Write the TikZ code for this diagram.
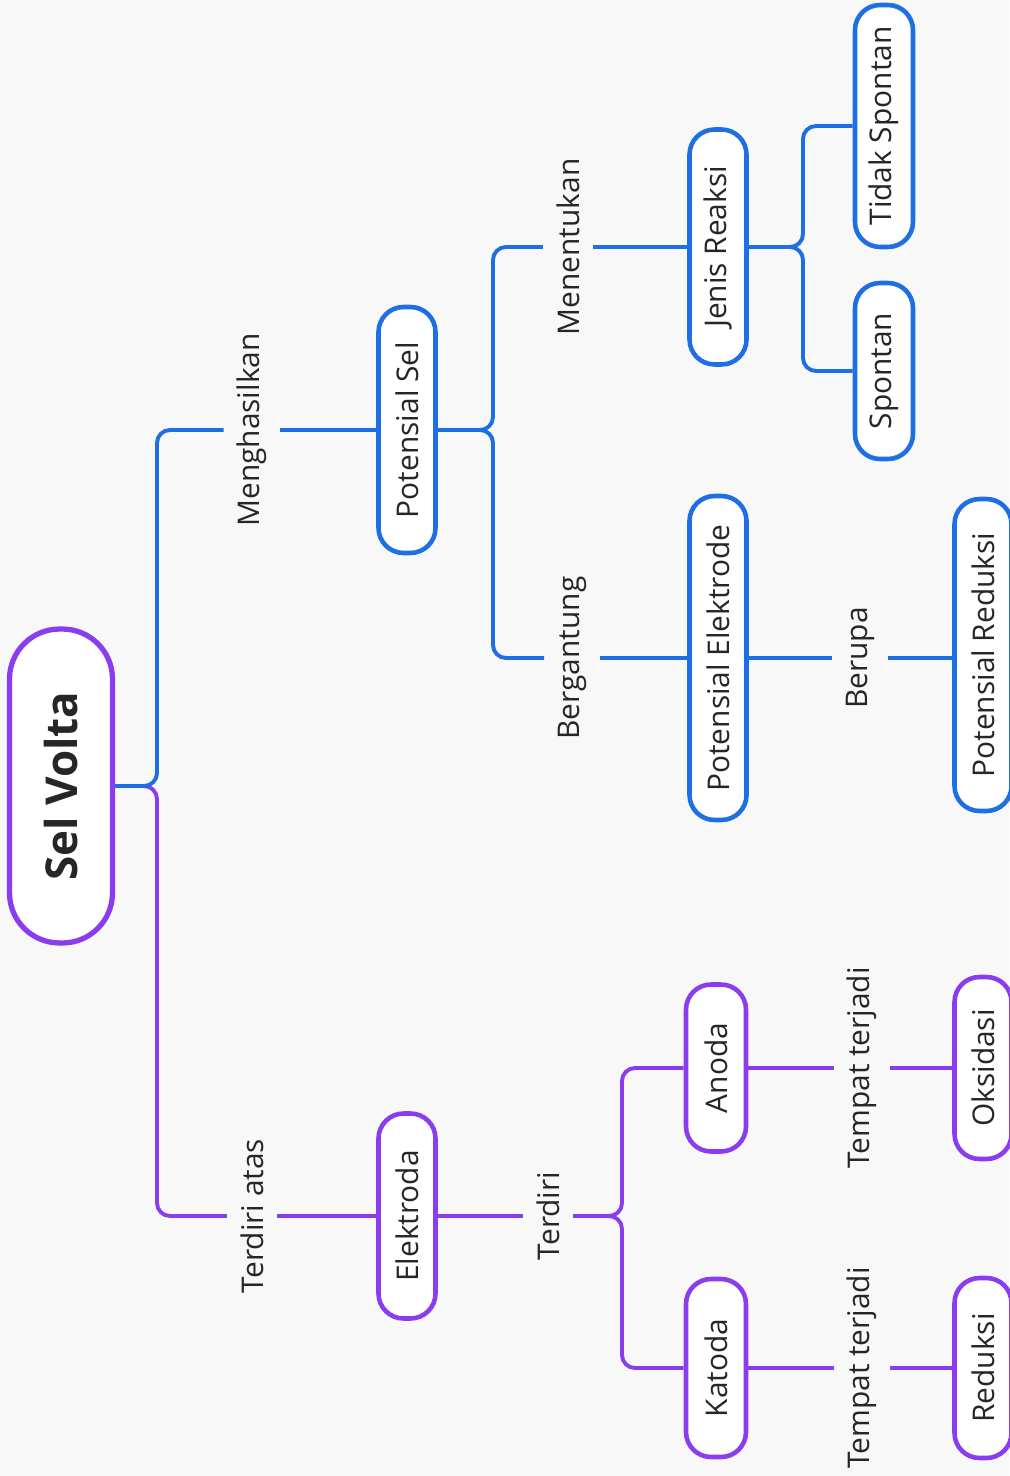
\documentclass[tikz,border=0pt]{standalone}
\usepackage{fontspec}
\setmainfont{Open Sans}
\usetikzlibrary{positioning}
\definecolor{mapblue}{HTML}{1E6FE3}
\definecolor{mappurple}{HTML}{8A3CEF}
\definecolor{mapbg}{HTML}{F8F8F8}
\definecolor{maptext}{HTML}{262626}

\begin{document}
\begin{tikzpicture}[x=0.02cm, y=-0.02cm,
        pill/.style={draw, rectangle, rounded corners=0.5cm, fill=white, line width=2.6pt, minimum width=1.14cm, inner sep=0pt, text=maptext, font=\fontsize{17}{20}\selectfont},
        bluepill/.style={pill, draw=mapblue},
        purplepill/.style={pill, draw=mappurple},
        rootpill/.style={pill, draw=mappurple, line width=3pt, rounded corners=1cm, minimum width=2.06cm, font=\fontsize{25}{30}\selectfont\bfseries},
        linktext/.style={inner xsep=7.5pt, inner ysep=0pt, text=maptext, font=\fontsize{17}{20}\selectfont},
        blueline/.style={draw=mapblue, line width=2.2pt, rounded corners=0.26cm},
        purpleline/.style={draw=mappurple, line width=2.2pt, rounded corners=0.26cm}
    ]
        \useasboundingbox (0,0) rectangle (1009,1476);
        \fill[mapbg] (0,0) rectangle (1009,1476);

        % root
        \node [rootpill, minimum height=6.28cm] (sv) at (61,786) {\rotatebox{90}{Sel Volta}};
        \coordinate (j0) at (157,786);

        % upper branch
        \node [linktext] (lbM) at (252,430) {\rotatebox{90}{Menghasilkan}};
        \node [bluepill, minimum height=4.92cm] (ps) at (407,430) {\rotatebox{90}{Potensial Sel}};
        \coordinate (j1) at (493,430);
        \node [linktext] (lbMen) at (568,247) {\rotatebox{90}{Menentukan}};
        \node [bluepill, minimum height=4.7cm] (jr) at (718,247) {\rotatebox{90}{Jenis Reaksi}};
        \coordinate (j2) at (803,247);
        \node [bluepill, minimum width=1.16cm, minimum height=4.84cm] (ts) at (884,126) {\rotatebox{90}{Tidak Spontan}};
        \node [bluepill, minimum width=1.16cm, minimum height=3.52cm] (sp) at (884,371) {\rotatebox{90}{Spontan}};
        \node [linktext] (lbB) at (572,658) {\rotatebox{90}{Bergantung}};
        \node [bluepill, minimum height=6.48cm] (pe) at (718,658) {\rotatebox{90}{Potensial Elektrode}};
        \node [linktext] (lbBer) at (860,658) {\rotatebox{90}{Berupa}};
        \node [bluepill, minimum height=6.24cm] (pr) at (983,655) {\rotatebox{90}{Potensial Reduksi}};

        % lower branch
        \node [linktext] (lbTA) at (252,1216) {\rotatebox{90}{Terdiri atas}};
        \node [purplepill, minimum height=4.1cm] (el) at (407,1216) {\rotatebox{90}{Elektroda}};
        \node [linktext] (lbT) at (548,1216) {\rotatebox{90}{Terdiri}};
        \coordinate (j3) at (622,1216);
        \node [purplepill, minimum width=1.2cm, minimum height=3.34cm] (an) at (716,1068) {\rotatebox{90}{Anoda}};
        \node [linktext] (lbTT1) at (862,1068) {\rotatebox{90}{Tempat terjadi}};
        \node [purplepill, minimum height=3.64cm] (ok) at (983,1068) {\rotatebox{90}{Oksidasi}};
        \node [purplepill, minimum width=1.2cm, minimum height=3.56cm] (ka) at (716,1368) {\rotatebox{90}{Katoda}};
        \node [linktext] (lbTT2) at (862,1368) {\rotatebox{90}{Tempat terjadi}};
        \node [purplepill, minimum height=3.6cm] (re) at (983,1368) {\rotatebox{90}{Reduksi}};

        \draw [purpleline] (sv.east) -- (j0) |- (lbTA.west);
        \draw [blueline] (sv.east) -- (j0) |- (lbM.west);
        \draw [blueline] (lbM.east) -- (ps.west);
        \draw [blueline] (ps.east) -- (j1) |- (lbMen.west);
        \draw [blueline] (ps.east) -- (j1) |- (lbB.west);
        \draw [blueline] (lbMen.east) -- (jr.west);
        \draw [blueline] (jr.east) -- (j2) |- (ts.west);
        \draw [blueline] (jr.east) -- (j2) |- (sp.west);
        \draw [blueline] (lbB.east) -- (pe.west);
        \draw [blueline] (pe.east) -- (lbBer.west);
        \draw [blueline] (lbBer.east) -- (pr.west |- lbBer);

        \draw [purpleline] (lbTA.east) -- (el.west);
        \draw [purpleline] (el.east) -- (lbT.west);
        \draw [purpleline] (lbT.east) -- (j3) |- (an.west);
        \draw [purpleline] (lbT.east) -- (j3) |- (ka.west);
        \draw [purpleline] (an.east) -- (lbTT1.west);
        \draw [purpleline] (lbTT1.east) -- (ok.west);
        \draw [purpleline] (ka.east) -- (lbTT2.west);
        \draw [purpleline] (lbTT2.east) -- (re.west);

\end{tikzpicture}
\end{document}
